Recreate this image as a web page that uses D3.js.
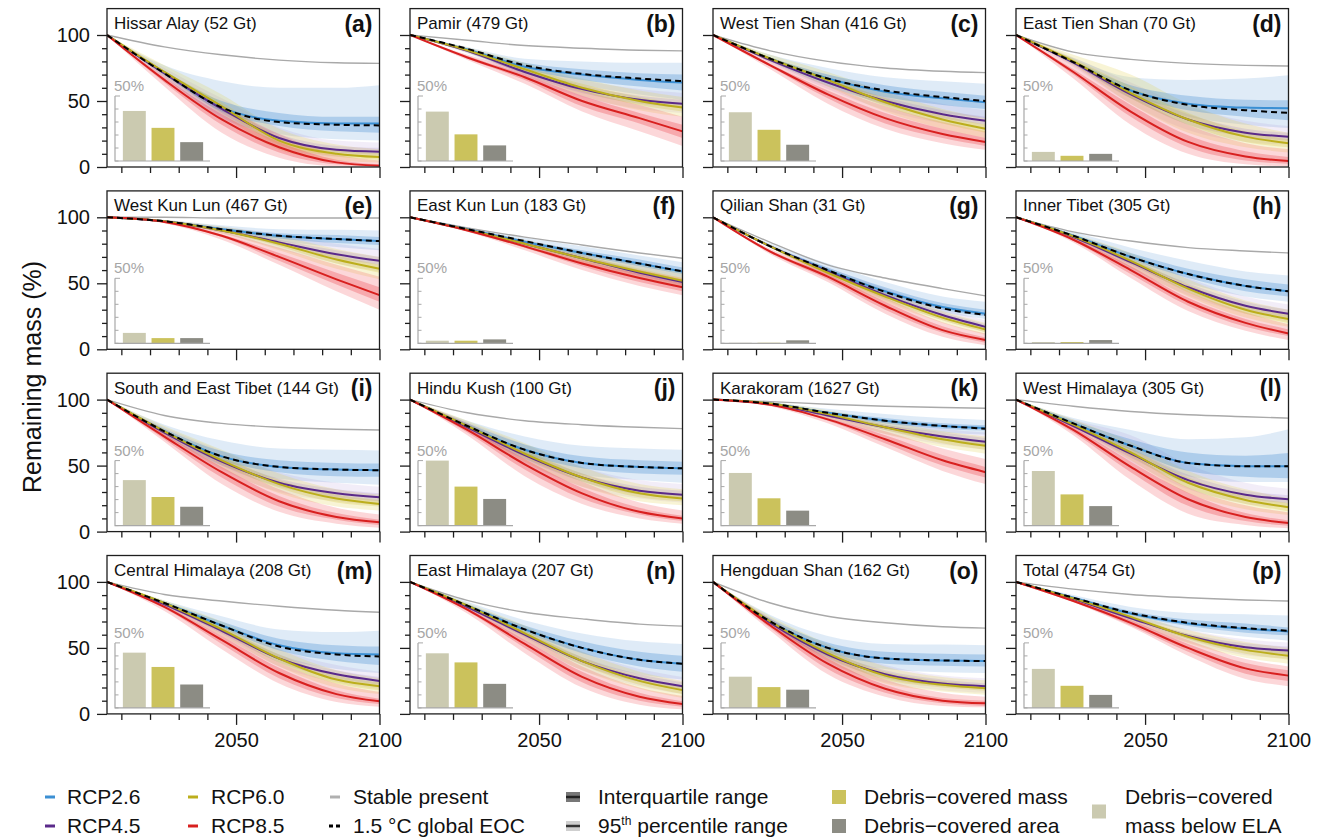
<!DOCTYPE html>
<html><head><meta charset="utf-8">
<script src="https://cdn.jsdelivr.net/npm/d3@7"></script>
<style>
body{margin:0;background:#fff;}
svg{display:block;}
text{font-family:"Liberation Sans", Arial, Helvetica, sans-serif;}
</style>
</head><body>
<svg id="chart" width="1325" height="840"></svg>
<script>
// ---------------- DATA ----------------
const regions = ["Hissar Alay","Pamir","West Tien Shan","East Tien Shan","West Kun Lun","East Kun Lun","Qilian Shan","Inner Tibet","South and East Tibet","Hindu Kush","Karakoram","West Himalaya","Central Himalaya","East Himalaya","Hengduan Shan","Total"];
const massGt = [52,479,416,70,467,183,31,305,144,100,1627,305,208,207,162,4754];
const letters = ["a","b","c","d","e","f","g","h","i","j","k","l","m","n","o","p"];
const years = [2005,2025,2045,2065,2085,2100];

const rcp26 = [
 [100,71,45,35,33,33],[100,89,76,70,66,64],[100,82,67,57,52,49],[100,79.5,58,48,45,44.5],
 [100,97,91,86,83.5,82],[100,91,81.5,73,65,59],[100,78,60,44,32,27],[100,86,70,57,48,44],
 [100,76,57,49,47,46.5],[100,80,62,52,49,48],[100,97,90,84,80,78.5],[100,82,65,52,49.5,49.5],
 [100,84,67,52,46,45],[100,82,64,50,41,38],[100,70,50,42,40.5,40],[100,88,76,68.5,64.5,62.5]];
const c15 = [
 [100,71,45,34,32,31.5],[100,89.5,77,70.5,67,65],[100,82,67,58,53,50],[100,79.5,58,47,43,41],
 [100,97,91,86,83.5,82],[100,91,82,73,65,59],[100,78,60,43.5,31,26],[100,86,70,57,48,44],
 [100,76,57,49,47,46.5],[100,80,62,52,49,48],[100,97,90,84,80,78],[100,82,65,52,49.5,49.5],
 [100,84,67,51,45,43.5],[100,82,64,50,41,38],[100,70,50,42,40.5,40],[100,88,76.5,69,65,63]];
const rcp45 = [
 [100,71,44,22,13,11.5],[100,88,72,59,51,48],[100,81,64,50,40,35],[100,79,55,36,26,23],
 [100,97,90,81,72,67],[100,90.5,80,69,58,51],[100,78,59,41,26,17],[100,85,66,47,33,27],
 [100,75,53,37,29,26],[100,79,58,41,31,28],[100,96.5,88,79,72,68],[100,80,59,39,28,24.5],
 [100,83,63,42,30,25],[100,81,60,40,27,21],[100,69,45,30,23,21],[100,87,72.5,59,50.5,48]];
const rcp60 = [
 [100,72,46,20,10,7.5],[100,88.5,74,60,50,45],[100,82,66,49,36,29],[100,80,56,36,23,18],
 [100,97,90,80,68,61],[100,90.5,80,69,59,52],[100,78,58,40,24,15],[100,85.5,67,46,30,23],
 [100,76,54,36,25,21],[100,80,59,41,29,25],[100,97,89,79,70,65],[100,81,60,37,24,18.5],
 [100,84,64,42,26,21],[100,82,61,40,25,18],[100,70,46,29,22,19.5],[100,87.5,73.5,58.5,48.5,44]];
const rcp85 = [
 [100,66,36,15,3.5,1],[100,83,68,50,37,27],[100,77,55,37,25,19],[100,72,42,19,8,4.5],
 [100,96.5,86,70,53,41],[100,90,78,65,54,47],[100,74,55,33,14.5,7],[100,83,60,36,20,12],
 [100,72,45,23,11,7],[100,77,51,29,15,10],[100,96,85,70,54,45],[100,77,49,24.5,11,6.5],
 [100,81,56,31,15,9.5],[100,79,53,28,13,7.5],[100,67,38,19,10,8],[100,85.5,69,50,34.5,29]];
const stablePresent = [
 [100,91,85,81,79,78.5],[100,96,92,90,88.5,88],[100,88,80,75,72.5,71.5],[100,87,81.5,78.5,77,76.5],
 [100,100,99.5,99.5,99.5,99.5],[100,92,85,79,73,69],[100,81,64,54,46,40.5],[100,89,82,77,74.5,73],
 [100,88,82,79,77.5,77],[100,90,84,81,79,78],[100,98.5,96.5,95,94,93.5],[100,95,91,88.5,87,86],
 [100,90.5,85.5,81.5,78.5,77],[100,86,77,72,68,66.5],[100,84,74,69,66,65],[100,94.5,90.5,88,86.3,85.5]];

// band offsets from the median: [below 95th, below IQR, above IQR, above 95th] per year
const band26 = [
 [[0,0,0,0],[3,1,2,6],[8,3,5,20],[10,4,6,25],[12,6,5,27],[13,7,5,29]],
 [[0,0,0,0],[2,1,1,2],[5,2,3,6],[8,4,4,10],[11,5,5,13],[13,6,6,15]],
 [[0,0,0,0],[2,1,1,3],[6,3,3,8],[9,4,5,11],[11,5,5,13],[12,5,5,14]],
 [[0,0,0,0],[2,1,1,3],[6,3,4,10],[10,5,6,18],[13,7,6,22],[15,9,6,25]],
 [[0,0,0,0],[1,.5,.5,1],[2,1,1,3],[4,2,2,5],[6,3,3,7],[7,3,3,8]],
 [[0,0,0,0],[1,.5,.5,1],[3,1,1,3],[4,2,2,5],[5,2,3,6],[5,2,3,7]],
 [[0,0,0,0],[1,.5,.5,2],[3,1,2,5],[4,2,3,7],[4,2,3,8],[4,2,3,9]],
 [[0,0,0,0],[2,1,1,3],[5,2,3,7],[7,3,4,10],[8,4,5,11],[8,4,5,12]],
 [[0,0,0,0],[3,1,2,5],[7,3,4,12],[9,4,5,14],[10,5,5,15],[11,5,5,15]],
 [[0,0,0,0],[3,1,2,4],[7,3,4,10],[9,4,5,13],[10,5,5,14],[11,5,5,14]],
 [[0,0,0,0],[1,.5,.5,1],[3,1,1,3],[4,2,2,5],[5,2,2,6],[5,2,2,6]],
 [[0,0,0,0],[2,1,2,4],[6,3,5,12],[10,6,8,18],[12,8,8,22],[12,9,10,28]],
 [[0,0,0,0],[2,1,1,2],[5,2,3,7],[9,4,5,12],[12,6,6,16],[14,8,6,18]],
 [[0,0,0,0],[2,1,1,3],[5,2,3,7],[9,4,5,11],[11,5,6,14],[12,6,6,15]],
 [[0,0,0,0],[3,1,2,5],[7,3,4,9],[8,4,5,11],[9,4,5,12],[9,4,5,12]],
 [[0,0,0,0],[1,.5,1,2],[3,1,2,5],[5,2,3,8],[6,3,4,11],[7,3,3,12]]];
const band45 = [
 [[0,0,0,0],[3,1,1,4],[6,3,3,8],[7,3,3,8],[5,2,3,7],[4,2,3,7]],
 [[0,0,0,0],[2,1,1,2],[4,2,2,5],[6,3,3,7],[7,3,3,8],[7,3,3,8]],
 [[0,0,0,0],[2,1,1,2],[5,2,2,6],[7,3,3,8],[7,3,3,8],[7,3,3,8]],
 [[0,0,0,0],[3,1,1,4],[7,3,3,9],[8,4,4,10],[7,3,3,9],[6,3,3,8]],
 [[0,0,0,0],[1,.5,.5,1],[2,1,1,3],[5,2,2,6],[7,3,3,8],[8,3,3,9]],
 [[0,0,0,0],[1,.5,.5,1],[3,1,1,3],[4,2,2,5],[5,2,2,6],[5,2,2,6]],
 [[0,0,0,0],[1,.5,.5,1],[3,1,1,3],[4,2,2,5],[4,2,2,5],[4,2,2,5]],
 [[0,0,0,0],[2,1,1,2],[5,2,2,6],[6,3,3,7],[6,3,3,7],[6,3,3,7]],
 [[0,0,0,0],[3,1,1,4],[6,3,3,8],[7,3,3,8],[6,3,3,8],[6,3,3,8]],
 [[0,0,0,0],[3,1,1,4],[6,3,3,8],[7,3,3,8],[6,3,3,8],[6,3,3,8]],
 [[0,0,0,0],[1,.5,.5,1],[3,1,1,3],[5,2,2,5],[6,3,3,6],[6,3,3,7]],
 [[0,0,0,0],[2,1,2,5],[6,3,4,14],[7,3,4,12],[7,3,3,9],[6,3,3,8]],
 [[0,0,0,0],[2,1,1,2],[4,2,2,5],[6,3,3,7],[6,3,3,7],[6,3,3,7]],
 [[0,0,0,0],[2,1,1,2],[5,2,2,6],[7,3,3,7],[6,3,3,7],[6,3,3,7]],
 [[0,0,0,0],[3,1,1,4],[6,3,3,7],[6,3,3,7],[5,2,3,6],[5,2,2,6]],
 [[0,0,0,0],[1,.5,.5,1],[3,1,1,3],[5,2,2,5],[6,3,3,6],[6,3,3,6]]];
const band60 = [
 [[0,0,0,0],[3,1,1,5],[6,3,3,9],[7,3,3,9],[5,2,3,7],[4,2,3,6]],
 [[0,0,0,0],[2,1,1,2],[4,2,2,5],[6,3,3,7],[7,3,3,8],[7,3,3,8]],
 [[0,0,0,0],[2,1,1,3],[5,2,2,6],[7,3,3,8],[7,3,3,8],[7,3,3,8]],
 [[0,0,0,0],[3,1,2,5],[8,4,5,14],[10,4,5,12],[8,4,4,10],[7,3,3,8]],
 [[0,0,0,0],[1,.5,.5,1],[2,1,1,3],[5,2,2,6],[7,3,3,8],[8,3,3,9]],
 [[0,0,0,0],[1,.5,.5,1],[3,1,1,3],[4,2,2,5],[5,2,2,6],[5,2,2,6]],
 [[0,0,0,0],[1,.5,.5,1],[3,1,1,3],[4,2,2,5],[4,2,2,5],[4,2,2,5]],
 [[0,0,0,0],[2,1,1,2],[5,2,2,6],[6,3,3,7],[6,3,3,7],[6,3,3,7]],
 [[0,0,0,0],[3,1,1,4],[6,3,3,8],[7,3,3,8],[6,3,3,7],[5,2,3,7]],
 [[0,0,0,0],[3,1,1,4],[6,3,3,8],[7,3,3,8],[6,3,3,7],[5,2,3,7]],
 [[0,0,0,0],[1,.5,.5,1],[3,1,1,3],[5,2,2,5],[6,3,3,6],[6,3,3,7]],
 [[0,0,0,0],[2,1,2,4],[6,3,3,8],[8,4,4,9],[7,3,3,8],[6,3,3,7]],
 [[0,0,0,0],[2,1,1,2],[5,2,2,6],[6,3,3,7],[6,3,3,7],[6,3,3,6]],
 [[0,0,0,0],[2,1,1,2],[5,2,2,6],[7,3,3,7],[6,3,3,7],[6,3,3,7]],
 [[0,0,0,0],[3,1,1,4],[6,3,3,7],[6,3,3,7],[5,2,3,6],[5,2,2,6]],
 [[0,0,0,0],[1,.5,.5,1],[3,1,1,3],[5,2,2,5],[6,3,3,6],[6,3,3,6]]];
const band85 = [
 [[0,0,0,0],[5,2,2,5],[10,4,4,11],[8,4,4,10],[3,1.5,2,6],[1,.5,1,4]],
 [[0,0,0,0],[2,1,1,2],[5,2,2,5],[8,4,4,8],[10,4,4,10],[11,5,5,11]],
 [[0,0,0,0],[3,1,1,3],[7,3,3,7],[8,4,4,9],[7,3,4,9],[6,3,3,8]],
 [[0,0,0,0],[5,2,2,6],[10,4,5,12],[9,4,5,13],[6,3,4,10],[4,2,3,9]],
 [[0,0,0,0],[1,.5,.5,1],[3,1,1,3],[6,3,3,7],[9,4,5,11],[11,5,6,14]],
 [[0,0,0,0],[1,.5,.5,1],[3,1,1,3],[5,2,2,5],[6,3,3,6],[6,3,3,7]],
 [[0,0,0,0],[2,1,1,2],[4,2,2,5],[6,3,3,6],[5,2,3,6],[4,2,2,5]],
 [[0,0,0,0],[2,1,1,3],[6,3,3,7],[7,3,3,8],[6,3,3,8],[5,2,3,7]],
 [[0,0,0,0],[4,2,2,5],[9,4,4,9],[8,4,4,9],[5,2,3,7],[4,2,2,6]],
 [[0,0,0,0],[4,2,2,5],[9,4,4,9],[8,4,4,9],[5,2,3,7],[4,2,2,6]],
 [[0,0,0,0],[1,.5,.5,1],[3,1,1,3],[6,3,3,6],[8,4,4,9],[9,4,4,10]],
 [[0,0,0,0],[4,2,2,4],[10,4,4,10],[11,5,5,9],[6,3,3,9],[4,2,2,8]],
 [[0,0,0,0],[3,1,1,3],[7,3,3,7],[8,4,4,8],[6,3,3,8],[4,2,2,7]],
 [[0,0,0,0],[3,1,1,3],[7,3,3,7],[8,4,4,8],[6,3,3,7],[4,2,2,6]],
 [[0,0,0,0],[4,2,2,5],[8,4,4,8],[6,3,3,7],[4,2,2,6],[3,2,2,5]],
 [[0,0,0,0],[1,.5,.5,1],[3,2,2,3],[6,3,3,6],[8,4,4,7],[8,4,4,7]]];

// inset bars (% of regional mass / area)
const barBelowELA  = [38.5,38,37.5,7,8,2,0.4,1,35,50,40.5,42,42.5,42,24,30];
const barDebrisMass= [25.5,20.5,24,4,4,2,0.4,1,22,30,21,24,31.5,35,16,17];
const barDebrisArea= [14.5,12,12.5,5.5,4,3,2.3,2.5,14.5,20.5,11.5,15,18,18.5,14,10];

const yMajorTicks = [0,50,100];
const yMinorTicks = [10,20,30,40,60,70,80,90];
const xMajorTicks = [2050,2100];
const xMinorTicks = [2010,2020,2030,2040,2060,2070,2080,2090];
const insetTicks = [0,10,20,30,40,50];

// ---------------- STYLE ----------------
const lineCol = {r26:"#3b8fd3", r45:"#5a2a8a", r60:"#bcae1c", r85:"#d8201f"};
const fill95  = {r26:"rgba(120,172,222,0.24)", r45:"rgba(150,110,200,0.12)", r60:"rgba(226,210,80,0.24)", r85:"rgba(242,95,105,0.25)"};
const fillIQR = {r26:"rgba(75,145,212,0.33)", r45:"rgba(130,90,190,0.16)", r60:"rgba(212,196,60,0.28)", r85:"rgba(236,62,72,0.3)"};
const barCols = ["#cbcab0","#cbc25c","#8c8c84"];

const svg = d3.select("#chart");
const PW = 272.5, PH = 158.4;
const colL = c => 107 + c*303;
const rowB = r => 167 + r*182.3;
const axisCol = "#1e1e1e";

const series = [
  {k:"r26", med:rcp26, band:band26},
  {k:"r45", med:rcp45, band:band45},
  {k:"r60", med:rcp60, band:band60},
  {k:"r85", med:rcp85, band:band85}
];

regions.forEach((name, i) => {
  const c = i % 4, r = Math.floor(i / 4);
  const L = colL(c), B = rowB(r);
  const x = d3.scaleLinear().domain([2005, 2100]).range([L, L + PW]);
  const y = d3.scaleLinear().domain([0, 120]).range([B, B - PH]);
  const g = svg.append("g");

  const clipId = "clip" + i;
  svg.append("clipPath").attr("id", clipId).append("rect")
    .attr("x", L).attr("y", B - PH).attr("width", PW).attr("height", PH);
  const plot = g.append("g").attr("clip-path", `url(#${clipId})`);

  const idx = years.map((_, k) => k);
  const area = (med, band, a, b) => d3.area()
      .x(k => x(years[k]))
      .y0(k => y(Math.max(0, med[k] - band[k][a])))
      .y1(k => y(Math.min(100, med[k] + band[k][b])))
      .curve(d3.curveMonotoneX);

  series.forEach(s => {
    plot.append("path").datum(idx)
      .attr("d", area(s.med[i], s.band[i], 0, 3))
      .attr("fill", fill95[s.k]);
  });
  series.forEach(s => {
    plot.append("path").datum(idx)
      .attr("d", area(s.med[i], s.band[i], 1, 2))
      .attr("fill", fillIQR[s.k]);
  });

  const line = arr => d3.line().x(k => x(years[k])).y(k => y(arr[k])).curve(d3.curveMonotoneX);
  plot.append("path").datum(idx).attr("d", line(stablePresent[i]))
    .attr("fill", "none").attr("stroke", "#a9a9a9").attr("stroke-width", 1.4);
  series.forEach(s => {
    plot.append("path").datum(idx).attr("d", line(s.med[i]))
      .attr("fill", "none").attr("stroke", lineCol[s.k]).attr("stroke-width", 2);
  });
  plot.append("path").datum(idx).attr("d", line(c15[i]))
    .attr("fill", "none").attr("stroke", "#000").attr("stroke-width", 2)
    .attr("stroke-dasharray", "6,4");

  // inset bar chart
  const yb = d3.scaleLinear().domain([0, 50]).range([B - 6, B - 71]);
  const xb = d3.scaleBand().domain([0, 1, 2]).range([L + 13, L + 99]).paddingInner(0.2).paddingOuter(0.1);
  const vals = [barBelowELA[i], barDebrisMass[i], barDebrisArea[i]];
  g.selectAll(".bar").data(vals).join("rect")
    .attr("x", (d, k) => xb(k)).attr("width", xb.bandwidth())
    .attr("y", d => yb(d)).attr("height", d => yb(0) - yb(d))
    .attr("fill", (d, k) => barCols[k]);
  const ax0 = L + 8;
  g.append("path").attr("d", `M${ax0},${yb(50)}V${yb(0)}H${L + 103}`)
    .attr("fill", "none").attr("stroke", "#a8a8a8").attr("stroke-width", 1.2);
  g.selectAll(".itk").data(insetTicks).join("line")
    .attr("x1", ax0).attr("x2", d => ax0 + (d === 50 ? 5 : 3.5))
    .attr("y1", d => yb(d)).attr("y2", d => yb(d))
    .attr("stroke", "#a8a8a8").attr("stroke-width", 1);
  g.append("text").attr("x", ax0 - 1).attr("y", yb(50) - 5)
    .attr("font-size", 15).attr("fill", "#a6a6a6").text("50%");

  // axes (tick labels only on the left column / bottom row)
  const yAx = g.append("g").attr("transform", `translate(${L},0)`)
    .call(d3.axisLeft(y).tickValues(yMajorTicks).tickSize(10).tickPadding(7)
      .tickFormat(c === 0 ? d3.format("d") : ""));
  const yAxMinor = g.append("g").attr("transform", `translate(${L},0)`)
    .call(d3.axisLeft(y).tickValues(yMinorTicks).tickSize(5).tickFormat(""));
  const xAx = g.append("g").attr("transform", `translate(0,${B})`)
    .call(d3.axisBottom(x).tickValues(xMajorTicks).tickSize(11).tickPadding(8)
      .tickFormat(r === 3 ? d3.format("d") : ""));
  const xAxMinor = g.append("g").attr("transform", `translate(0,${B})`)
    .call(d3.axisBottom(x).tickValues(xMinorTicks).tickSize(6).tickFormat(""));
  [yAx, yAxMinor, xAx, xAxMinor].forEach(a => {
    a.select(".domain").remove();
    a.selectAll("line").attr("stroke", axisCol).attr("stroke-width", 1.3);
    a.selectAll("text").attr("font-size", 20).attr("fill", "#111")
      .style("font-family", '"Liberation Sans", Arial, sans-serif');
  });

  // panel frame
  g.append("rect").attr("x", L).attr("y", B - PH).attr("width", PW).attr("height", PH)
    .attr("fill", "none").attr("stroke", axisCol).attr("stroke-width", 1.3);

  // titles
  g.append("text").attr("x", L + 7).attr("y", B - PH + 20.5)
    .attr("font-size", 17).attr("fill", "#111").text(`${name} (${massGt[i]} Gt)`);
  g.append("text").attr("x", L + PW - 7).attr("y", B - PH + 23)
    .attr("font-size", 23).attr("font-weight", "bold").attr("text-anchor", "end")
    .attr("fill", "#111").text(`(${letters[i]})`);
});

// y-axis title
svg.append("text").attr("transform", "translate(41,377) rotate(-90)")
  .attr("text-anchor", "middle").attr("font-size", 25).attr("fill", "#111")
  .text("Remaining mass (%)");

// ---------------- LEGEND ----------------
const lg = svg.append("g");
const r1 = 797, r2 = 826, fs = 21;
const ltext = (xx, yy, t) => lg.append("text").attr("x", xx).attr("y", yy + 7).attr("font-size", fs).attr("fill", "#111").text(t);
const lline = (x0, yy, col, dash) => lg.append("line").attr("x1", x0).attr("x2", x0 + (dash ? 13 : 10))
  .attr("y1", yy).attr("y2", yy).attr("stroke", col).attr("stroke-width", 3)
  .attr("stroke-dasharray", dash || null);

lline(45, r1, lineCol.r26); ltext(67, r1, "RCP2.6");
lline(45, r2, lineCol.r45); ltext(67, r2, "RCP4.5");
lline(188, r1, lineCol.r60); ltext(211, r1, "RCP6.0");
lline(188, r2, lineCol.r85); ltext(211, r2, "RCP8.5");
lline(330, r1, "#b0b0b0"); ltext(353, r1, "Stable present");
lline(329, r2, "#000", "4,3"); ltext(353, r2, "1.5 °C global EOC");

lg.append("rect").attr("x", 566).attr("y", r1 - 5).attr("width", 14).attr("height", 10).attr("fill", "#777");
lg.append("line").attr("x1", 566).attr("x2", 580).attr("y1", r1).attr("y2", r1).attr("stroke", "#222").attr("stroke-width", 2.5);
ltext(598, r1, "Interquartile range");
lg.append("rect").attr("x", 566).attr("y", r2 - 5).attr("width", 14).attr("height", 10).attr("fill", "#cfcfcf");
lg.append("line").attr("x1", 566).attr("x2", 580).attr("y1", r2).attr("y2", r2).attr("stroke", "#333").attr("stroke-width", 2.5);
const t95 = lg.append("text").attr("x", 598).attr("y", r2 + 7).attr("font-size", fs).attr("fill", "#111");
t95.append("tspan").text("95");
t95.append("tspan").attr("font-size", 12).attr("dy", -8).text("th");
t95.append("tspan").attr("dy", 8).text(" percentile range");

lg.append("rect").attr("x", 832).attr("y", r1 - 7).attr("width", 14).attr("height", 14).attr("fill", barCols[1]);
ltext(864, r1, "Debris\u2212covered mass");
lg.append("rect").attr("x", 832).attr("y", r2 - 7).attr("width", 14).attr("height", 14).attr("fill", barCols[2]);
ltext(864, r2, "Debris\u2212covered area");
lg.append("rect").attr("x", 1092).attr("y", (r1 + r2) / 2 - 7).attr("width", 14).attr("height", 14).attr("fill", barCols[0]);
ltext(1125, r1, "Debris\u2212covered");
ltext(1125, r2, "mass below ELA");
</script>
</body></html>
